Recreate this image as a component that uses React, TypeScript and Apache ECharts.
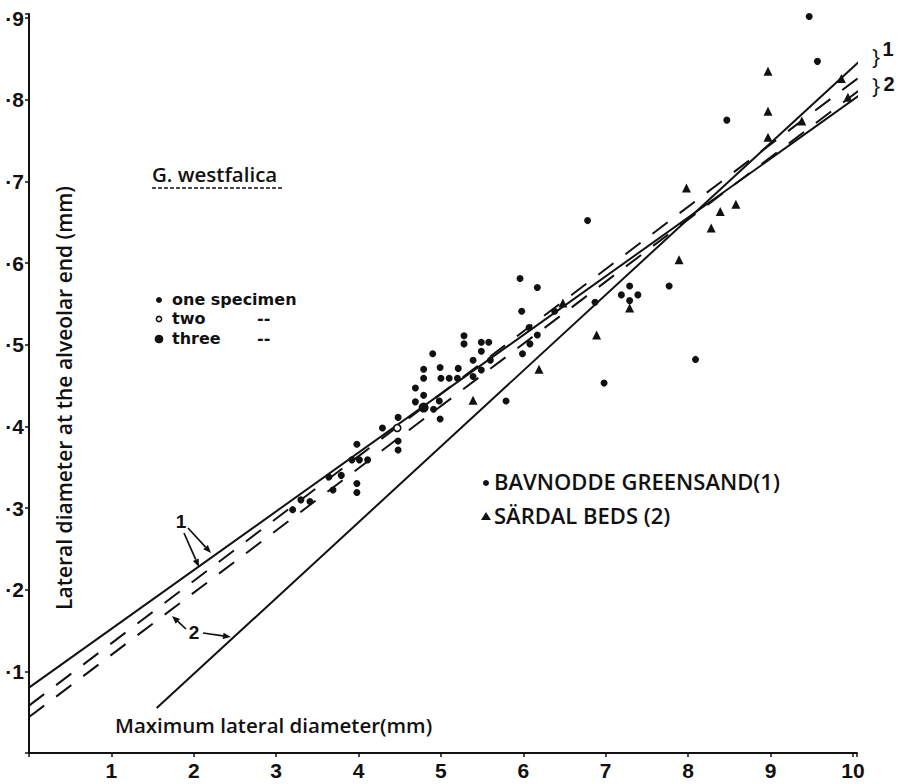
import React, { useEffect, useRef } from "react";
import * as echarts from "echarts";

// Measurements: x = maximum lateral diameter, y = lateral diameter at the alveolar end (mm)
const oneSpecimen: [number, number][] = [
  [5.28, 5.11], [5.28, 5.01], [5.49, 5.03], [5.58, 5.03], [5.49, 4.92], [4.9, 4.89],
  [5.39, 4.81], [5.6, 4.81], [4.79, 4.7], [4.99, 4.72], [5.21, 4.71], [5.49, 4.69],
  [4.79, 4.59], [5.0, 4.59], [5.1, 4.59], [5.2, 4.59], [5.39, 4.61], [4.69, 4.47],
  [4.79, 4.38], [4.69, 4.3], [4.98, 4.31], [4.91, 4.21], [4.99, 4.09], [5.79, 4.31],
  [4.48, 4.11], [4.29, 3.98], [4.48, 3.82], [4.48, 3.71], [3.98, 3.78], [3.92, 3.59],
  [4.01, 3.59], [4.11, 3.59], [3.79, 3.4], [3.64, 3.38], [3.98, 3.3], [3.98, 3.19],
  [3.69, 3.22], [3.3, 3.1], [3.41, 3.08], [3.2, 2.98], [6.78, 6.52], [5.96, 5.81],
  [6.17, 5.7], [5.98, 5.41], [6.38, 5.41], [6.07, 5.21], [6.17, 5.12], [6.08, 5.01],
  [5.99, 4.89], [6.87, 5.52], [6.98, 4.53], [7.29, 5.72], [7.19, 5.61], [7.39, 5.61],
  [7.29, 5.54], [7.77, 5.72], [8.09, 4.82], [9.47, 9.02], [9.57, 8.47], [8.47, 7.75],
];
const twoSpecimens: [number, number][] = [[4.47, 3.98]];
const threeSpecimens: [number, number][] = [[4.79, 4.23]];
const sardalBeds: [number, number][] = [
  [5.39, 4.32], [6.19, 4.7], [6.48, 5.51], [6.89, 5.12], [7.29, 5.45], [7.89, 6.04],
  [7.98, 6.92], [8.28, 6.43], [8.39, 6.63], [8.58, 6.72], [8.97, 7.54], [8.97, 7.86],
  [8.97, 8.35], [9.38, 7.74], [9.86, 8.26], [9.94, 8.03],
];

// Fitted lines (end points)
const solidLine1: [number, number][] = [[0, 0.8], [10.24, 8.17]];
const solidLine2: [number, number][] = [[1.55, 0.55], [10.24, 8.62]];
const dashedLine1: [number, number][] = [[0, 0.58], [10.24, 8.4]];
const dashedLine2: [number, number][] = [[0, 0.44], [10.24, 8.24]];

const xTicks = [1, 2, 3, 4, 5, 6, 7, 8, 9, 10];
const yTicks = [1, 2, 3, 4, 5, 6, 7, 8, 9];

const NUM_FONT = "Liberation Sans";
const FONT = "Open Sans";
const KEY_FONT = "DejaVu Sans";
const INK = "#111";

function arrow(x1: number, y1: number, x2: number, y2: number) {
  const a = Math.atan2(y2 - y1, x2 - x1);
  const L = 8, W = 3.2;
  const bx = x2 - L * Math.cos(a), by = y2 - L * Math.sin(a);
  const px = -Math.sin(a) * W, py = Math.cos(a) * W;
  return [
    { type: "line", shape: { x1, y1, x2: bx, y2: by }, style: { stroke: INK, lineWidth: 1.7 } },
    {
      type: "polygon",
      shape: { points: [[x2, y2], [bx + px, by + py], [bx - px, by - py]] },
      style: { fill: INK },
    },
  ];
}

function txt(x: number, y: number, text: string, fontSize: number, extra: any = {}) {
  return {
    type: "text",
    x,
    y,
    style: {
      text,
      fontFamily: FONT,
      fontWeight: 600,
      fontSize,
      fill: INK,
      textVerticalAlign: "middle",
      ...extra,
    },
  };
}

const keyText = (x: number, y: number, text: string) =>
  txt(x, y, text, 16, { fontFamily: KEY_FONT, fontWeight: "bold" });

export default function App() {
  const ref = useRef<HTMLDivElement>(null);

  useEffect(() => {
    if (!ref.current) return;
    const chart = echarts.init(ref.current, undefined, { renderer: "svg" });

    const lineSeries = (data: [number, number][], dashed: boolean) => ({
      type: "line",
      data,
      showSymbol: false,
      silent: true,
      lineStyle: { color: INK, width: 2, type: dashed ? [19, 15] : "solid" },
      z: 2,
    });

    const dots = (data: [number, number][], symbol: string, size: number, style: any) => ({
      type: "scatter",
      data,
      symbol,
      symbolSize: size,
      itemStyle: { opacity: 1, ...style },
      z: 3,
    });

    chart.setOption({
      animation: false,
      backgroundColor: "#fff",
      grid: { left: 29, right: 46, top: 14, bottom: 31, containLabel: false },
      xAxis: {
        type: "value",
        min: 0,
        max: 10.05,
        interval: 1,
        splitLine: { show: false },
        axisLine: { lineStyle: { color: INK, width: 2 } },
        axisTick: { show: true, length: 4, lineStyle: { color: INK, width: 1.5 } },
        axisLabel: {
          margin: 7,
          fontFamily: NUM_FONT,
          fontWeight: "bold",
          fontSize: 21,
          color: INK,
          formatter: (v: number) => (xTicks.includes(v) ? String(v) : ""),
        },
      },
      yAxis: {
        type: "value",
        min: 0,
        max: 9.05,
        interval: 1,
        splitLine: { show: false },
        axisLine: { lineStyle: { color: INK, width: 2 } },
        axisTick: { show: true, length: 4, lineStyle: { color: INK, width: 1.5 } },
        axisLabel: {
          margin: 5,
          fontFamily: NUM_FONT,
          fontWeight: "bold",
          fontSize: 21,
          color: INK,
          formatter: (v: number) => (yTicks.includes(v) ? "·" + v : ""),
        },
      },
      series: [
        lineSeries(solidLine1, false),
        lineSeries(solidLine2, false),
        lineSeries(dashedLine1, true),
        lineSeries(dashedLine2, true),
        dots(oneSpecimen, "circle", 7, { color: INK }),
        dots(twoSpecimens, "circle", 7, { color: "#fff", borderColor: INK, borderWidth: 1.6 }),
        dots(threeSpecimens, "circle", 10, { color: INK }),
        dots(sardalBeds, "triangle", 9, { color: INK }),
      ],
      graphic: [
        // y axis title
        {
          type: "text",
          x: 64,
          y: 398,
          rotation: Math.PI / 2,
          style: {
            text: "Lateral diameter at the alveolar end (mm)",
            fontFamily: FONT,
            fontWeight: 600,
            fontSize: 21,
            fill: INK,
            textAlign: "center",
            textVerticalAlign: "middle",
          },
        },
        // x axis title
        txt(115, 725, "Maximum lateral diameter(mm)", 20.5),
        // species heading
        txt(152, 174, "G. westfalica", 20.5),
        {
          type: "line",
          shape: { x1: 152, y1: 188, x2: 283, y2: 188 },
          style: { stroke: INK, lineWidth: 1.5, lineDash: [4, 2] },
        },
        // specimen-count key
        { type: "circle", shape: { cx: 159, cy: 300, r: 3 }, style: { fill: INK } },
        keyText(172, 299, "one specimen"),
        { type: "circle", shape: { cx: 159, cy: 319, r: 2.6 }, style: { fill: "#fff", stroke: INK, lineWidth: 1.5 } },
        keyText(172, 318.5, "two"),
        keyText(257, 318.5, "--"),
        { type: "circle", shape: { cx: 159, cy: 339, r: 4.3 }, style: { fill: INK } },
        keyText(172, 338, "three"),
        keyText(257, 338, "--"),
        // locality key
        { type: "circle", shape: { cx: 486, cy: 483, r: 3 }, style: { fill: INK } },
        txt(494, 481, "BAVNODDE GREENSAND(1)", 22),
        {
          type: "polygon",
          shape: { points: [[486, 512], [481, 520], [491, 520]] },
          style: { fill: INK },
        },
        txt(494, 515, "SÄRDAL BEDS (2)", 22),
        // line labels with arrows
        txt(181, 521, "1", 19, { fontFamily: NUM_FONT, fontWeight: "bold", textAlign: "center" }),
        ...arrow(188, 528, 211, 553),
        ...arrow(184, 533, 199, 567),
        txt(194, 632, "2", 19, { fontFamily: NUM_FONT, fontWeight: "bold", textAlign: "center" }),
        ...arrow(186, 629, 172, 616),
        ...arrow(203, 633, 231, 637),
        // brackets at the right end of the lines
        txt(876, 56, "}", 22, { fontWeight: "normal", textAlign: "center" }),
        txt(888, 49, "1", 20, { fontFamily: NUM_FONT, fontWeight: "bold", textAlign: "center" }),
        txt(876, 85, "}", 22, { fontWeight: "normal", textAlign: "center" }),
        txt(889, 84, "2", 20, { fontFamily: NUM_FONT, fontWeight: "bold", textAlign: "center" }),
      ],
    });

    return () => chart.dispose();
  }, []);

  return (
    <div
      ref={ref}
      style={{ position: "fixed", left: 0, top: 0, width: 903, height: 784, background: "#fff" }}
    />
  );
}
